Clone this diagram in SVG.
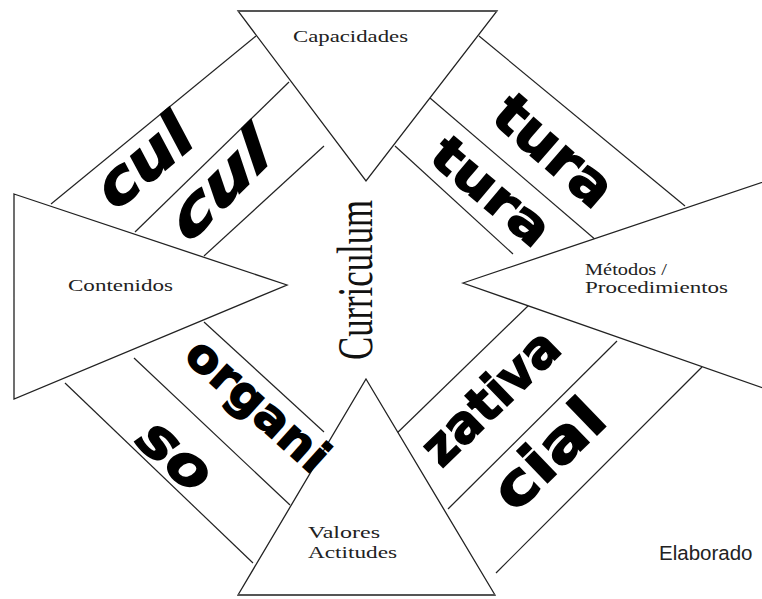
<svg xmlns="http://www.w3.org/2000/svg" width="762" height="599" viewBox="0 0 762 599">
<style>
.tri{fill:#fff;stroke:#222;stroke-width:1.3;stroke-linejoin:miter}
.ln{stroke:#222;stroke-width:1.2;fill:none}
.lbl{font-family:"Liberation Serif","Times New Roman",serif;font-size:16px;fill:#222}
.big{font-family:"DejaVu Sans","Liberation Sans",sans-serif;font-weight:bold;fill:#000;stroke:#000;stroke-width:1.5;text-anchor:middle}
.it{font-style:italic}
</style>
<rect width="762" height="599" fill="#fff"/>
<g id="bands">
  <line class="ln" x1="51" y1="204" x2="256" y2="36"/>
  <line class="ln" x1="135" y1="232" x2="289" y2="82"/>
  <line class="ln" x1="204" y1="256" x2="324" y2="146"/>
  <line class="ln" x1="479" y1="36" x2="685" y2="206"/>
  <line class="ln" x1="430" y1="98" x2="597" y2="241"/>
  <line class="ln" x1="395" y1="146" x2="513" y2="254"/>
  <line class="ln" x1="65" y1="383" x2="253" y2="563"/>
  <line class="ln" x1="134" y1="358" x2="290" y2="505"/>
  <line class="ln" x1="204" y1="322" x2="324" y2="432"/>
  <line class="ln" x1="393" y1="437" x2="529" y2="305"/>
  <line class="ln" x1="448" y1="509" x2="617" y2="341"/>
  <line class="ln" x1="496" y1="573" x2="702" y2="367"/>
</g>
<g id="node-capacidades">
  <polygon class="tri" points="238,11 497,11 366,181"/>
  <line x1="238" y1="11" x2="497" y2="11" stroke="#555" stroke-width="2"/>
  <text class="lbl" x="293" y="42" textLength="115" lengthAdjust="spacingAndGlyphs">Capacidades</text>
</g>
<g id="node-contenidos">
  <polygon class="tri" points="14,194 287,285 14,399"/>
  <text class="lbl" x="68" y="291" textLength="105" lengthAdjust="spacingAndGlyphs">Contenidos</text>
</g>
<g id="node-metodos">
  <polygon class="tri" points="463,283 766,181 766,389"/>
  <text class="lbl" x="585" y="275" textLength="82" lengthAdjust="spacingAndGlyphs">Métodos /</text>
  <text class="lbl" x="585" y="293" textLength="143" lengthAdjust="spacingAndGlyphs">Procedimientos</text>
</g>
<g id="node-valores">
  <polygon class="tri" points="366,379 495,595 238,595"/>
  <line x1="238" y1="595" x2="495" y2="595" stroke="#555" stroke-width="2"/>
  <text class="lbl" x="308" y="538" textLength="72" lengthAdjust="spacingAndGlyphs">Valores</text>
  <text class="lbl" x="308" y="558" textLength="89" lengthAdjust="spacingAndGlyphs">Actitudes</text>
</g>
<g id="node-curriculum">
  <text class="lbl" transform="translate(372,360) scale(1.45,1) rotate(-90)" style="font-size:34.7px;fill:#111" textLength="160" lengthAdjust="spacingAndGlyphs">Curriculum</text>
</g>
<g id="words">
  <text class="big it" transform="translate(146,164) rotate(-40)" y="17" style="font-size:60px" textLength="108" lengthAdjust="spacingAndGlyphs">cul</text>
  <text class="big it" transform="translate(222,188) rotate(-45) skewX(-14)" y="16" style="font-size:58px" textLength="122" lengthAdjust="spacingAndGlyphs">cul</text>
  <text class="big" transform="translate(552,153) rotate(41)" y="16" style="font-size:56px" textLength="140" lengthAdjust="spacingAndGlyphs">tura</text>
  <text class="big" transform="translate(490,193) rotate(40)" y="15" style="font-size:50px" textLength="140" lengthAdjust="spacingAndGlyphs">tura</text>
  <text class="big" transform="translate(256,407) rotate(42)" y="13" style="font-size:46px" textLength="175" lengthAdjust="spacingAndGlyphs">organi</text>
  <text class="big it" transform="translate(174,457) rotate(42)" y="16" style="font-size:56px" textLength="80" lengthAdjust="spacingAndGlyphs">so</text>
  <text class="big" transform="translate(493,400) rotate(-44)" y="14" style="font-size:52px" textLength="170" lengthAdjust="spacingAndGlyphs">zativa</text>
  <text class="big" transform="translate(551,457) rotate(-44)" y="16" style="font-size:58px" textLength="132" lengthAdjust="spacingAndGlyphs">cial</text>
</g>
<text x="659" y="560" style="font-family:'Liberation Sans',Arial,sans-serif;font-size:20.5px;fill:#222">Elaborado</text>
</svg>
